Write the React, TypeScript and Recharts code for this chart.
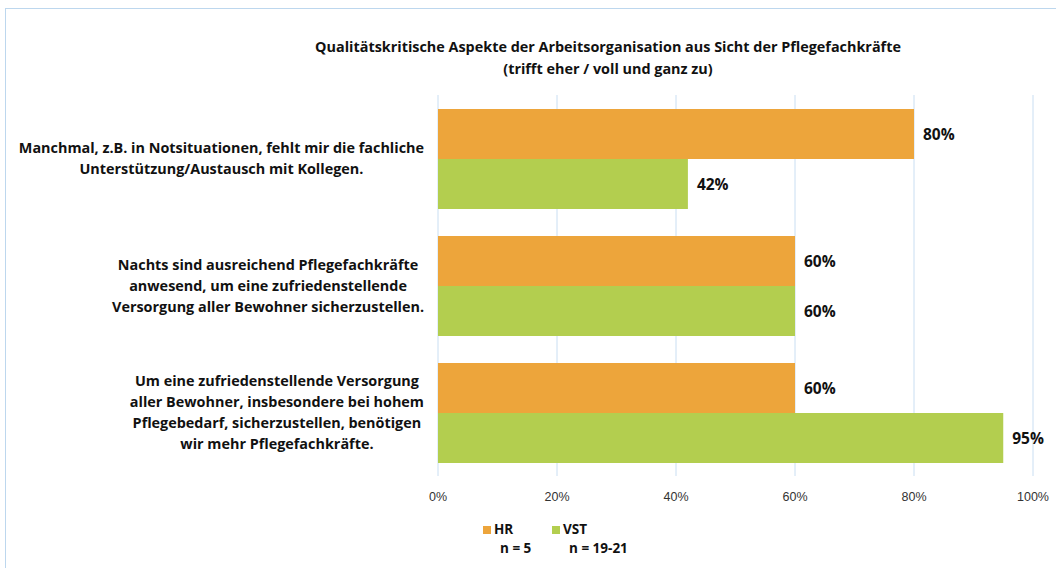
import { BarChart, Bar, XAxis, YAxis, CartesianGrid, LabelList } from "recharts";

const FONT = '"Liberation Sans", Arial, sans-serif';
const LABEL_FONT = '"Open Sans", sans-serif';

const categories = [
  "Manchmal, z.B. in Notsituationen, fehlt mir die fachliche\nUnterstützung/Austausch mit Kollegen.",
  "Nachts sind ausreichend Pflegefachkräfte\nanwesend, um eine zufriedenstellende\nVersorgung aller Bewohner sicherzustellen.",
  "Um eine zufriedenstellende Versorgung\naller Bewohner, insbesondere bei hohem\nPflegebedarf, sicherzustellen, benötigen\nwir mehr Pflegefachkräfte.",
];
const hr = [80, 60, 60];
const vst = [42, 60, 95];
const xTicks = [0, 20, 40, 60, 80, 100];

const series = [
  { key: "hr", name: "HR", note: "n = 5", color: "#EDA53B" },
  { key: "vst", name: "VST", note: "n = 19-21", color: "#B3CE4F" },
];

const data = categories.map((label, i) => ({ label, hr: hr[i], vst: vst[i] }));

const LABEL_SIZE = 14.4;

let ctx: CanvasRenderingContext2D | null = null;
function textWidth(s: string) {
  if (!ctx) ctx = document.createElement("canvas").getContext("2d");
  if (!ctx) return s.length * 7;
  ctx.font = `bold ${LABEL_SIZE}px ${LABEL_FONT}`;
  return ctx.measureText(s).width;
}

function CategoryTick({ y, payload }: any) {
  const lines: string[] = String(payload.value).split("\n");
  const maxW = Math.max(...lines.map(textWidth));
  const cx = 424 - maxW / 2;
  const lh = 21;
  const top = y - ((lines.length - 1) * lh) / 2;
  return (
    <text
      x={cx}
      y={top}
      textAnchor="middle"
      fontFamily={LABEL_FONT}
      fontSize={LABEL_SIZE}
      fontWeight="bold"
      fill="#111"
    >
      {lines.map((l, i) => (
        <tspan key={i} x={cx} y={top + i * lh} dy="0.35em">
          {l}
        </tspan>
      ))}
    </text>
  );
}

export default function App() {
  return (
    <div
      style={{
        position: "absolute",
        left: 0,
        top: 0,
        width: 1056,
        height: 568,
        background: "#fff",
        fontFamily: FONT,
      }}
    >
      <div
        style={{
          position: "absolute",
          left: 5,
          top: 8,
          width: 1100,
          height: 600,
          border: "1px solid #BDD7EE",
        }}
      />
      <div
        style={{
          position: "absolute",
          left: 258,
          width: 700,
          top: 36,
          textAlign: "center",
          fontFamily: LABEL_FONT,
          fontSize: LABEL_SIZE,
          fontWeight: "bold",
          lineHeight: "22px",
          color: "#111",
        }}
      >
        Qualitätskritische Aspekte der Arbeitsorganisation aus Sicht der Pflegefachkräfte
        <br />
        (trifft eher / voll und ganz zu)
      </div>
      <div style={{ position: "absolute", left: 0, top: 0 }}>
        <BarChart
          width={1056}
          height={568}
          data={data}
          layout="vertical"
          margin={{ top: 95, right: 23, left: 0, bottom: 62 }}
          barSize={50}
          barGap={0}
        >
          <CartesianGrid horizontal={false} stroke="#C9DEF2" />
          <XAxis
            type="number"
            domain={[0, 100]}
            ticks={xTicks}
            tickFormatter={(v) => `${v}%`}
            axisLine={false}
            tickLine={false}
            tickMargin={10}
            height={30}
            tick={{ fontSize: 12.5, fill: "#333", fontFamily: FONT }}
          />
          <YAxis
            type="category"
            dataKey="label"
            width={438}
            axisLine={false}
            tickLine={false}
            tick={<CategoryTick />}
            interval={0}
          />
          {series.map((s) => (
            <Bar key={s.key} dataKey={s.key} name={s.name} fill={s.color} isAnimationActive={false}>
              <LabelList
                dataKey={s.key}
                position="right"
                offset={9}
                formatter={(v: any) => `${v}%`}
                style={{ fontSize: 15.5, fontWeight: "bold", fill: "#111", fontFamily: LABEL_FONT }}
              />
            </Bar>
          ))}
        </BarChart>
      </div>
      {series.map((s, i) => (
        <div
          key={s.key}
          style={{
            position: "absolute",
            left: 483 + i * 69,
            top: 520,
            fontSize: 13.5,
            fontWeight: "bold",
            fontFamily: LABEL_FONT,
            color: "#111",
            lineHeight: "19px",
          }}
        >
          <div style={{ display: "flex", alignItems: "center" }}>
            <span
              style={{ width: 8, height: 8, background: s.color, display: "inline-block", marginRight: 3 }}
            />
            {s.name}
          </div>
          <div style={{ paddingLeft: 17 }}>{s.note}</div>
        </div>
      ))}
    </div>
  );
}
